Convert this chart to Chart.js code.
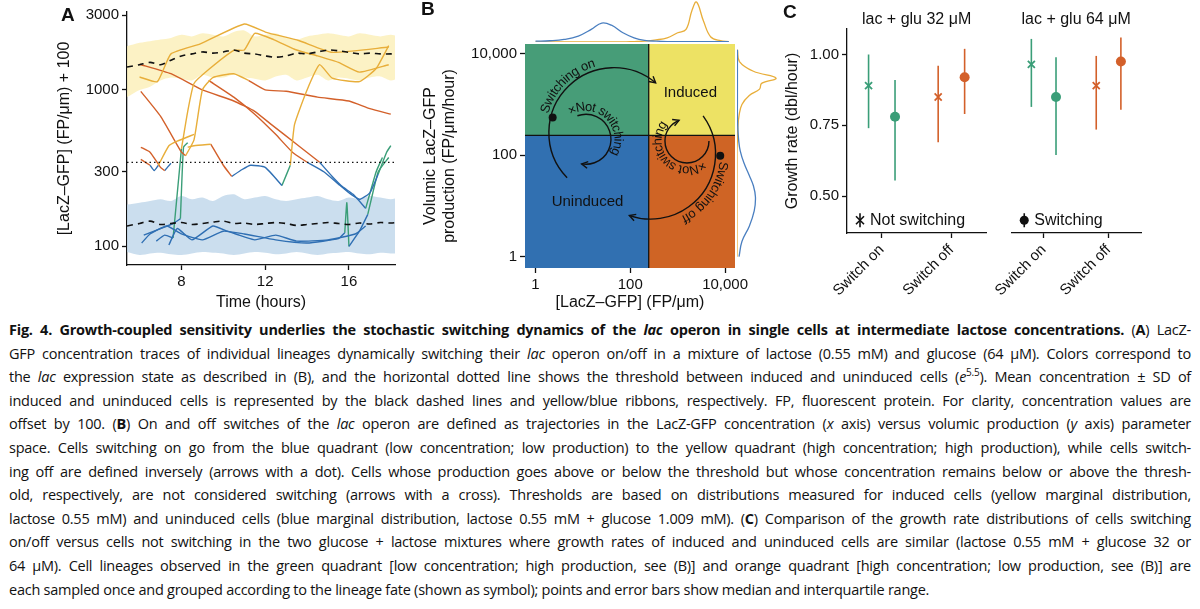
<!DOCTYPE html>
<html>
<head>
<meta charset="utf-8">
<script src="https://cdn.jsdelivr.net/npm/chart.js@4"></script>
<style>
  body { margin:0; background:#fff; width:1200px; height:609px; overflow:hidden; position:relative; }
  .box { position:absolute; }
  #caption { position:absolute; left:9px; top:318px; width:1182px; font-family:'Open Sans',sans-serif; font-size:14.5px; letter-spacing:-0.25px; color:#111; line-height:23.6px; }
  #caption div { text-align:justify; text-align-last:justify; white-space:nowrap; }
  #caption div.last { text-align-last:left; }
</style>
</head>
<body>
<div class="box" style="left:0;top:0;width:400px;height:312px"><canvas id="chartA"></canvas></div>
<div class="box" style="left:400px;top:0;width:378px;height:312px"><canvas id="chartB"></canvas></div>
<div class="box" style="left:525px;top:0;width:210px;height:42px"><canvas id="chartBTop"></canvas></div>
<div class="box" style="left:737px;top:44px;width:41px;height:224px"><canvas id="chartBRight"></canvas></div>
<div class="box" style="left:778px;top:0;width:215px;height:312px"><canvas id="chartC1"></canvas></div>
<div class="box" style="left:993px;top:0;width:207px;height:312px"><canvas id="chartC2"></canvas></div>

<div id="caption">
<div><b>Fig. 4. Growth-coupled sensitivity underlies the stochastic switching dynamics of the <i>lac</i> operon in single cells at intermediate lactose concentrations.</b> (<b>A</b>) LacZ-</div>
<div>GFP concentration traces of individual lineages dynamically switching their <i>lac</i> operon on/off in a mixture of lactose (0.55 mM) and glucose (64 μM). Colors correspond to</div>
<div>the <i>lac</i> expression state as described in (B), and the horizontal dotted line shows the threshold between induced and uninduced cells (<i>e</i><sup style="font-size:10px;line-height:0">5.5</sup>). Mean concentration ± SD of</div>
<div>induced and uninduced cells is represented by the black dashed lines and yellow/blue ribbons, respectively. FP, fluorescent protein. For clarity, concentration values are</div>
<div>offset by 100. (<b>B</b>) On and off switches of the <i>lac</i> operon are defined as trajectories in the LacZ-GFP concentration (<i>x</i> axis) versus volumic production (<i>y</i> axis) parameter</div>
<div>space. Cells switching on go from the blue quadrant (low concentration; low production) to the yellow quadrant (high concentration; high production), while cells switch-</div>
<div>ing off are defined inversely (arrows with a dot). Cells whose production goes above or below the threshold but whose concentration remains below or above the thresh-</div>
<div>old, respectively, are not considered switching (arrows with a cross). Thresholds are based on distributions measured for induced cells (yellow marginal distribution,</div>
<div>lactose 0.55 mM) and uninduced cells (blue marginal distribution, lactose 0.55 mM + glucose 1.009 mM). (<b>C</b>) Comparison of the growth rate distributions of cells switching</div>
<div>on/off versus cells not switching in the two glucose + lactose mixtures where growth rates of induced and uninduced cells are similar (lactose 0.55 mM + glucose 32 or</div>
<div>64 μM). Cell lineages observed in the green quadrant [low concentration; high production, see (B)] and orange quadrant [high concentration; low production, see (B)] are</div>
<div class="last">each sampled once and grouped according to the lineage fate (shown as symbol); points and error bars show median and interquartile range.</div>
</div>

<script>
// ---- colours
const YELLOW = '#E8AE3A', ORANGE = '#D3602A', BLUE = '#2F6FB3', GREEN = '#3A9E78';

// ---- panel A: ribbons and means
const ribbonHours = [5.4,6,6.5,7,7.5,8,8.5,9,9.5,10,10.5,11,11.5,12,12.5,13,13.5,14,14.5,15,15.5,16,16.5,17,17.5,18,18.4];
const inducedUpper = [1900,2000,2050,2100,2150,2250,2200,2300,2250,2200,2350,2400,2200,2250,2300,2150,2100,2200,2250,2300,2250,2200,2300,2250,2200,2250,2200];
const inducedLower = [900,1000,1050,1150,1200,1180,1150,1250,1200,1200,1250,1200,1180,1150,1220,1250,1150,1200,1250,1150,1200,1180,1150,1200,1220,1150,1200];
const inducedMean = [1400,1450,1500,1450,1550,1650,1700,1750,1720,1750,1800,1720,1700,1650,1620,1650,1720,1700,1750,1800,1780,1740,1700,1720,1700,1700,1720];
const uninducedUpper = [185,190,195,200,195,210,200,205,195,210,215,200,205,210,200,195,200,205,210,200,195,205,200,210,205,200,205];
const uninducedLower = [92,88,90,91,89,88,90,92,91,90,88,90,92,91,89,90,92,90,88,90,91,92,90,89,91,90,90];
const uninducedMean = [135,140,145,138,140,142,138,140,143,145,140,141,138,140,142,140,136,138,140,142,140,138,141,139,142,141,143];
const threshold = Math.exp(5.5) + 100;

// ---- panel A: trace segments [hour, value], grouped by lac state
const yellowTraces = [
  [[6.0,1210],[6.85,1130],[7.5,1700],[8.9,1970],[11.0,2640],[12.05,2335],[13.6,2070],[15.2,1740],[17.9,1880]],
  [[8.0,420],[8.3,730],[8.6,1100],[9.3,1350],[10.5,1790],[11.0,1800],[11.5,2300],[12.4,2100],[13.5,1800],[14.5,1650],[15.5,1500],[16.5,1300],[17.9,1450]],
  [[8.2,380],[8.6,480],[9.0,1000],[9.5,1200],[10.5,1270],[11.2,1150]],
  [[6.9,330],[7.4,440],[7.8,470],[8.6,520]],
  [[8.3,430],[8.6,440],[9.4,450]],
  [[13.2,330],[13.4,600],[14.0,1000],[14.6,1450],[15.2,1190],[16.5,1130],[17.3,1370],[17.9,1920]]
];
const orangeTraces = [
  [[6.0,1460],[7.5,1270],[9.0,1000],[10.5,850],[11.5,730],[12.3,600],[13.5,450],[14.6,345]],
  [[6.06,980],[7.0,680],[8.0,400],[8.2,380]],
  [[11.2,1150],[12.0,1000],[13.0,980],[14.5,900],[16.0,850],[17.0,760],[18,700]],
  [[9.3,1150],[10.5,900],[11.5,700],[12.5,520],[13.3,400],[14.0,345]],
  [[6.06,360],[6.5,330]],
  [[6.06,430],[6.5,400],[7.0,320],[7.2,305]],
  [[9.4,450],[10.0,330],[10.4,280]]
];
const blueTraces = [
  [[14.6,345],[15.2,280],[15.7,240],[16.2,215],[16.8,175]],
  [[14.0,345],[14.8,300],[15.5,250],[16.0,220],[16.5,200],[17.0,220],[17.4,290]],
  [[10.4,280],[10.9,310],[11.3,330],[12.0,320],[12.8,245]],
  [[6.5,330],[6.7,305],[6.9,330]],
  [[7.2,305],[7.5,340]],
  [[6.1,105],[6.5,120],[7.3,135],[8,120],[9,110],[10,125],[11,120],[12.5,110],[14,105],[15.5,112],[15.8,122]],
  [[16.0,100],[16.5,125],[16.9,160]],
  [[7.4,102],[7.8,130],[8.5,110],[9.5,135],[10.2,125],[11.5,110],[12.5,118],[13.5,108],[15,110],[16.3,120],[16.8,135]],
  [[6.2,118],[7.0,130],[7.6,140],[7.95,150]],
  [[6.8,108],[7.2,118],[7.6,113]]
];
const greenTraces = [
  [[16.8,175],[17.3,300],[17.6,370]],
  [[15.8,122],[15.9,190],[16.0,100]],
  [[16.9,160],[17.4,300],[17.9,370]],
  [[7.95,150],[8.1,430],[8.3,460]],
  [[7.6,113],[8.0,420]],
  [[12.8,245],[13.2,330]],
  [[17.4,290],[17.8,400],[18.0,440]]
];
const hourTicks = [8, 12, 16];
const concTicksA = [100, 300, 1000, 3000];

// ---- panel B
const concThreshold = Math.exp(5.5);
const prodThreshold = 246;
const logTicksB = [1, 100, 10000];
const marginX = [1,2,4,8,15,25,40,70,120,200,350,600,1000,1500,2000,2500,3500,5000,8000,12000];
const marginXBlue = [0.02,0.03,0.06,0.14,0.3,0.45,0.4,0.22,0.1,0.04,0.02,0.01,0.01,0.01,0.01,0.01,0.01,0.01,0.01,0.01];
const marginXYellow = [0,0,0,0,0,0,0,0,0.01,0.02,0.05,0.1,0.22,0.3,0.75,0.95,0.5,0.12,0.03,0.01];
const marginY = [1,2,4,8,15,25,40,70,120,200,350,600,1000,1500,2000,2600,3300,4500,7000,12000];
const marginYBlue = [0.05,0.12,0.3,0.42,0.45,0.4,0.3,0.17,0.08,0.04,0.02,0.01,0.01,0.01,0.01,0.01,0.01,0.01,0.01,0.01];
const marginYYellow = [0,0,0,0,0,0,0,0,0,0.01,0.02,0.05,0.12,0.3,0.55,0.6,0.95,0.4,0.06,0.01];
const switchDots = [{x:2.3, y:550}, {x:7900, y:98}];

// ---- panel C
const facetTitles = ['lac + glu 32 μM', 'lac + glu 64 μM'];
const switchLabels = ['Switch on', 'Switch off'];
const notSwitch32 = [0.89, 0.85], notSwitch32Q1 = [0.74, 0.69], notSwitch32Q3 = [1.00, 0.96];
const switch32 = [0.78, 0.92], switch32Q1 = [0.555, 0.79], switch32Q3 = [0.91, 1.02];
const notSwitch64 = [0.965, 0.89], notSwitch64Q1 = [0.815, 0.735], notSwitch64Q3 = [1.055, 0.995];
const switch64 = [0.85, 0.975], switch64Q1 = [0.645, 0.805], switch64Q3 = [0.99, 1.06];
const growthTicks = [0.5, 0.75, 1.0];

Chart.defaults.font.family = "'Liberation Sans', Arial, sans-serif";
Chart.defaults.font.size = 15;
Chart.defaults.color = '#111';
Chart.defaults.animation = false;
Chart.defaults.plugins.legend.display = false;
Chart.defaults.plugins.tooltip.enabled = false;

function axis(extra) {
  return Object.assign({
    border: { color: '#111', width: 1.3 },
    grid: { drawOnChartArea: false, drawTicks: true, tickLength: 5, color: '#111', tickWidth: 1.3 },
    ticks: { color: '#111', padding: 3, font: { size: 15 } }
  }, extra);
}
function fixTicks(vals) { return s => { s.ticks = vals.map(v => ({ value: v })); }; }

function panelLabel(text, dx, dy) {
  return {
    id: 'label' + text,
    afterDraw(chart) {
      const c = chart.ctx;
      c.save();
      c.font = "bold 19px 'Liberation Sans', Arial";
      c.fillStyle = '#111';
      c.textBaseline = 'middle';
      c.fillText(text, chart.chartArea.left + dx, chart.chartArea.top + dy);
      c.restore();
    }
  };
}

// ===== Panel A
const pairs = seg => seg.map(p => ({ x: p[0], y: p[1] }));
const traceSets = [];
[[yellowTraces, YELLOW], [orangeTraces, ORANGE], [blueTraces, BLUE], [greenTraces, GREEN]].forEach(([list, col]) => {
  list.forEach(seg => traceSets.push({ data: pairs(seg), borderColor: col, borderWidth: 1.4, pointRadius: 0, tension: 0.15, order: 1 }));
});
const ribbon = (arr) => ribbonHours.map((h, i) => ({ x: h, y: arr[i] }));

new Chart(document.getElementById('chartA'), {
  type: 'line',
  data: {
    datasets: [
      { data: ribbon(inducedUpper), borderWidth: 0, pointRadius: 0, fill: '+1', backgroundColor: 'rgba(251,238,178,0.75)', tension: 0.3, order: 10 },
      { data: ribbon(inducedLower), borderWidth: 0, pointRadius: 0, fill: false, tension: 0.3, order: 10 },
      { data: ribbon(uninducedUpper), borderWidth: 0, pointRadius: 0, fill: '+1', backgroundColor: 'rgba(190,214,234,0.8)', tension: 0.3, order: 10 },
      { data: ribbon(uninducedLower), borderWidth: 0, pointRadius: 0, fill: false, tension: 0.3, order: 10 },
      { data: ribbon(inducedMean), borderColor: '#111', borderDash: [6, 5], borderWidth: 1.6, pointRadius: 0, tension: 0.3, order: 0 },
      { data: ribbon(uninducedMean), borderColor: '#111', borderDash: [6, 5], borderWidth: 1.6, pointRadius: 0, tension: 0.3, order: 0 },
      { data: [{ x: 5.4, y: threshold }, { x: 18.4, y: threshold }], borderColor: '#111', borderDash: [1.5, 3], borderWidth: 1.3, pointRadius: 0, order: 0 },
      ...traceSets
    ]
  },
  options: {
    responsive: true, maintainAspectRatio: false,
    layout: { padding: { left: 55, top: 10, right: 5, bottom: 0 } },
    scales: {
      x: axis({ type: 'linear', min: 5.4, max: 18.2, afterBuildTicks: fixTicks(hourTicks),
        title: { display: true, text: 'Time (hours)', font: { size: 16 }, padding: { top: 0, bottom: 0 } },
        afterFit: s => { s.height = 47; } }),
      y: axis({ type: 'logarithmic', min: 76, max: 3150, afterBuildTicks: fixTicks(concTicksA),
        ticks: { color: '#111', padding: 3, font: { size: 15 }, callback: v => String(v) },
        title: { display: true, text: '[LacZ–GFP] (FP/μm) + 100', font: { size: 16 }, padding: { top: 0, bottom: 0 } },
        afterFit: s => { s.width = 72; } })
    }
  },
  plugins: [panelLabel('A', -66, 4)]
});

// ===== Panel B
const deg = Math.PI / 180;
const arcs = [
  { cx: 45, cy: 278, r: 65, a0: 136, a1: 310, text: 'Switching on', tr: 72, ta: 196 },
  { cx: 11.6, cy: 206, r: 25, a0: 250, a1: 460, text: '×Not switching', tr: 32, ta: 238 },
  { cx: 267, cy: 105, r: 65, a0: -36, a1: 109, text: 'Switching off', tr: 73, ta: 6 },
  { cx: 1570, cy: 191, r: 22, a0: 0, a1: 249, text: '×Not switching', tr: 29, ta: 52 }
];
const quadrantPlugin = {
  id: 'quadrants',
  beforeDatasetsDraw(chart) {
    const { ctx: c, chartArea: a, scales: { x, y } } = chart;
    const tx = x.getPixelForValue(concThreshold), ty = y.getPixelForValue(prodThreshold);
    c.save();
    c.fillStyle = '#479D78'; c.fillRect(a.left, a.top, tx - a.left, ty - a.top);
    c.fillStyle = '#EDE264'; c.fillRect(tx, a.top, a.right - tx, ty - a.top);
    c.fillStyle = '#3170B1'; c.fillRect(a.left, ty, tx - a.left, a.bottom - ty);
    c.fillStyle = '#CF6425'; c.fillRect(tx, ty, a.right - tx, a.bottom - ty);
    c.strokeStyle = '#111'; c.lineWidth = 1.3;
    c.beginPath(); c.moveTo(tx, a.top); c.lineTo(tx, a.bottom); c.moveTo(a.left, ty); c.lineTo(a.right, ty); c.stroke();
    c.font = "15px 'Liberation Sans', Arial"; c.fillStyle = '#111'; c.textAlign = 'center'; c.textBaseline = 'middle';
    c.fillText('Induced', x.getPixelForValue(1850), y.getPixelForValue(1700));
    c.fillText('Uninduced', x.getPixelForValue(12.5), y.getPixelForValue(12));
    c.restore();
  },
  afterDatasetsDraw(chart) {
    const { ctx: c, scales: { x, y } } = chart;
    c.save();
    c.strokeStyle = '#111'; c.fillStyle = '#111'; c.lineWidth = 1.4;
    arcs.forEach(arc => {
      const px = x.getPixelForValue(arc.cx), py = y.getPixelForValue(arc.cy);
      c.beginPath(); c.arc(px, py, arc.r, arc.a0 * deg, arc.a1 * deg, false); c.stroke();
      const ea = arc.a1 * deg, ex = px + arc.r * Math.cos(ea), ey = py + arc.r * Math.sin(ea);
      const dir = ea + Math.PI / 2;
      c.beginPath();
      c.moveTo(ex - 7 * Math.cos(dir - 0.5), ey - 7 * Math.sin(dir - 0.5));
      c.lineTo(ex, ey);
      c.lineTo(ex - 7 * Math.cos(dir + 0.5), ey - 7 * Math.sin(dir + 0.5));
      c.stroke();
      c.font = "13px 'Liberation Sans', Arial"; c.textAlign = 'center'; c.textBaseline = 'middle';
      let ang = arc.ta * deg;
      for (const ch of arc.text) {
        const w = c.measureText(ch).width;
        ang += (w / 2) / arc.tr;
        c.save();
        c.translate(px + arc.tr * Math.cos(ang), py + arc.tr * Math.sin(ang));
        c.rotate(ang + Math.PI / 2);
        c.fillText(ch, 0, 0);
        c.restore();
        ang += (w / 2) / arc.tr;
      }
    });
    c.restore();
  }
};
const logFmt = v => v.toLocaleString('en-US');
new Chart(document.getElementById('chartB'), {
  type: 'scatter',
  data: { datasets: [{ data: switchDots, pointRadius: 4, backgroundColor: '#111', borderWidth: 0 }] },
  options: {
    responsive: true, maintainAspectRatio: false,
    layout: { padding: { left: 21, top: 44, right: 43, bottom: 0 } },
    scales: {
      x: axis({ type: 'logarithmic', min: 0.64, max: 16200, afterBuildTicks: fixTicks(logTicksB),
        border: { display: false }, ticks: { color: '#111', padding: 3, font: { size: 15 }, callback: logFmt },
        title: { display: true, text: '[LacZ–GFP] (FP/μm)', font: { size: 16 }, padding: { top: 0, bottom: 0 } },
        afterFit: s => { s.height = 44; } }),
      y: axis({ type: 'logarithmic', min: 0.64, max: 15500, afterBuildTicks: fixTicks(logTicksB),
        border: { display: false }, ticks: { color: '#111', padding: 3, font: { size: 15 }, callback: logFmt },
        title: { display: true, text: ['Volumic LacZ–GFP', 'production (FP/μm/hour)'], font: { size: 16 }, padding: { top: 0, bottom: 0 }, lineHeight: 1.15 },
        afterFit: s => { s.width = 104; } })
    }
  },
  plugins: [quadrantPlugin, panelLabel('B', -104, -34)]
});

new Chart(document.getElementById('chartBTop'), {
  type: 'line',
  data: { datasets: [
    { data: marginX.map((v, i) => ({ x: v, y: marginXBlue[i] })), borderColor: '#4A7FC0', borderWidth: 1.3, pointRadius: 0, tension: 0.4 },
    { data: marginX.map((v, i) => ({ x: v, y: marginXYellow[i] })), borderColor: YELLOW, borderWidth: 1.3, pointRadius: 0, tension: 0.4 }
  ] },
  options: { responsive: true, maintainAspectRatio: false, layout: { padding: 0 }, clip: false,
    scales: { x: { type: 'logarithmic', min: 0.64, max: 16200, display: false }, y: { min: 0, max: 1, display: false } } }
});
new Chart(document.getElementById('chartBRight'), {
  type: 'line',
  data: { datasets: [
    { data: marginY.map((v, i) => ({ y: v, x: marginYBlue[i] })), borderColor: '#4A7FC0', borderWidth: 1.3, pointRadius: 0, tension: 0.4 },
    { data: marginY.map((v, i) => ({ y: v, x: marginYYellow[i] })), borderColor: YELLOW, borderWidth: 1.3, pointRadius: 0, tension: 0.4 }
  ] },
  options: { responsive: true, maintainAspectRatio: false, indexAxis: 'y', layout: { padding: 0 }, clip: false,
    scales: { y: { type: 'logarithmic', min: 0.64, max: 15500, display: false }, x: { type: 'linear', min: 0, max: 1, display: false } } }
});

// ===== Panel C
function facetChart(id, title, notSw, notQ1, notQ3, sw, swQ1, swQ3, showY, legendText, legendSym, pad) {
  const cols = [GREEN, ORANGE];
  const off = 0.19;
  const errPlugin = {
    id: 'err' + id,
    beforeDatasetsDraw(chart) {
      const { ctx: c, scales: { x, y } } = chart;
      c.save(); c.lineWidth = 1.6;
      [0, 1].forEach(i => {
        [[i + 1 - off, notQ1[i], notQ3[i]], [i + 1 + off, swQ1[i], swQ3[i]]].forEach(([xv, lo, hi]) => {
          c.strokeStyle = cols[i];
          c.beginPath(); c.moveTo(x.getPixelForValue(xv), y.getPixelForValue(lo)); c.lineTo(x.getPixelForValue(xv), y.getPixelForValue(hi)); c.stroke();
        });
      });
      c.restore();
    },
    afterDraw(chart) {
      const { ctx: c, chartArea: a, scales: { y } } = chart;
      c.save();
      c.fillStyle = '#111'; c.font = "16px 'Liberation Sans', Arial"; c.textAlign = 'center'; c.textBaseline = 'middle';
      c.fillText(title, (a.left + a.right) / 2, 20);
      const ly = y.getPixelForValue(0.415), lx = a.left + 13;
      c.strokeStyle = '#111'; c.lineWidth = 1.6;
      c.beginPath(); c.moveTo(lx, ly - 7); c.lineTo(lx, ly + 7); c.stroke();
      if (legendSym === 'cross') {
        c.beginPath(); c.moveTo(lx - 4, ly - 4); c.lineTo(lx + 4, ly + 4); c.moveTo(lx + 4, ly - 4); c.lineTo(lx - 4, ly + 4); c.stroke();
      } else {
        c.beginPath(); c.arc(lx, ly, 4.5, 0, 2 * Math.PI); c.fill();
      }
      c.textAlign = 'left'; c.font = "16px 'Liberation Sans', Arial";
      c.fillText(legendText, lx + 10, ly);
      c.restore();
    }
  };
  return new Chart(document.getElementById(id), {
    type: 'scatter',
    data: { datasets: [
      { data: notSw.map((v, i) => ({ x: i + 1 - off, y: v })), pointStyle: 'crossRot', pointRadius: 5, borderWidth: 1.8, borderColor: cols, backgroundColor: cols },
      { data: sw.map((v, i) => ({ x: i + 1 + off, y: v })), pointStyle: 'circle', pointRadius: 5, borderWidth: 0, backgroundColor: cols }
    ] },
    options: {
      responsive: true, maintainAspectRatio: false,
      layout: { padding: pad },
      scales: {
        x: axis({ type: 'linear', min: 0.5, max: 2.5, afterBuildTicks: fixTicks([1, 2]),
          ticks: { color: '#111', padding: 3, font: { size: 15 }, minRotation: 45, maxRotation: 45, callback: v => switchLabels[v - 1] },
          afterFit: s => { s.height = 79; } }),
        y: showY ? axis({ type: 'linear', min: 0.37, max: 1.09, afterBuildTicks: fixTicks(growthTicks),
          ticks: { color: '#111', padding: 3, font: { size: 15 }, callback: v => v.toFixed(2) },
          title: { display: true, text: 'Growth rate (dbl/hour)', font: { size: 16 }, padding: { top: 0, bottom: 0 } },
          afterFit: s => { s.width = 64; } })
          : { type: 'linear', min: 0.37, max: 1.09, display: false }
      }
    },
    plugins: showY ? [errPlugin, panelLabel('C', -64, -16)] : [errPlugin]
  });
}
facetChart('chartC1', facetTitles[0], notSwitch32, notSwitch32Q1, notSwitch32Q3, switch32, switch32Q1, switch32Q3, true, 'Not switching', 'cross', { left: 5, top: 29, right: 4, bottom: 0 });
facetChart('chartC2', facetTitles[1], notSwitch64, notSwitch64Q1, notSwitch64Q3, switch64, switch64Q1, switch64Q3, false, 'Switching', 'dot', { left: 4, top: 29, right: 59, bottom: 0 });
</script>
</body>
</html>
